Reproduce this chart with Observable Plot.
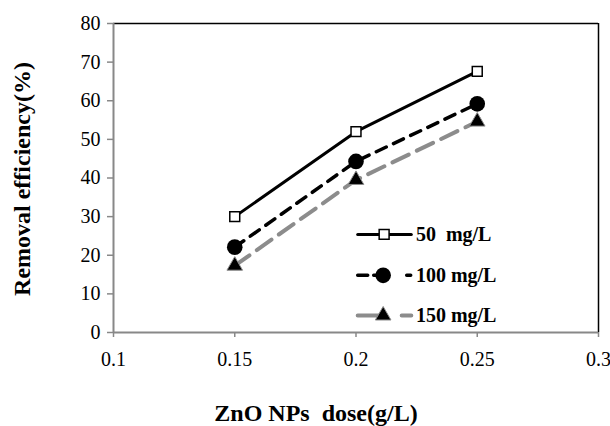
<!DOCTYPE html>
<html><head><meta charset="utf-8">
<script src="https://cdn.jsdelivr.net/npm/d3@7"></script>
<script src="https://cdn.jsdelivr.net/npm/@observablehq/plot@0.6"></script>
<style>
body{margin:0;background:#fff}
</style>
</head><body><div id="chart"></div>
<script>
const doses = [0.15, 0.2, 0.25];
const s50 = [30, 52, 67.6];
const s100 = [22.1, 44.3, 59.2];
const s150 = [17.3, 39.5, 54.6];
const seriesNames = ["50  mg/L", "100 mg/L", "150 mg/L"];
const xTicks = [0.1, 0.15, 0.2, 0.25, 0.3];
const yTicks = [0, 10, 20, 30, 40, 50, 60, 70, 80];
const xTitle = "ZnO NPs  dose(g/L)";
const yTitle = "Removal efficiency(%)";
// legend placement in data units
const legX0 = 0.2007, legX1 = 0.2228, legXm = [0.2116, 0.2112, 0.2112], legXt = 0.2247;
const legY = [25.4, 14.8, 4.4];

const rows = (vals) => doses.map((d, i) => ({x: d, y: vals[i]}));
const d50 = rows(s50), d100 = rows(s100), d150 = rows(s150);
const legLine = (i) => [{x: legX0, y: legY[i]}, {x: legX1, y: legY[i]}];
const legPt = (i) => [{x: legXm[i], y: legY[i]}];
const FONT = "Liberation Serif";

const chart = Plot.plot({
  width: 610, height: 426,
  marginLeft: 113, marginRight: 12, marginTop: 23, marginBottom: 94,
  style: {fontSize: "20px", color: "#000", background: "#fff", fontFamily: FONT},
  x: {domain: [0.1, 0.3], ticks: xTicks, tickFormat: d => String(d), tickSize: 5, tickPadding: 14, label: null},
  y: {domain: [0, 80], ticks: yTicks, tickSize: 6, tickPadding: 7, label: null},
  marks: [
    Plot.ruleY([80], {stroke: "#000", strokeWidth: 1.5}),
    Plot.ruleX([0.3], {stroke: "#000", strokeWidth: 1.5}),
    Plot.ruleX([0.1], {stroke: "#888", strokeWidth: 2}),
    Plot.ruleY([0], {stroke: "#888", strokeWidth: 2}),
    Plot.line(d150, {x: "x", y: "y", stroke: "#8c8c8c", strokeWidth: 4, strokeDasharray: "18,9"}),
    Plot.line(d100, {x: "x", y: "y", stroke: "#000", strokeWidth: 3.5, strokeDasharray: "11,8"}),
    Plot.line(d50, {x: "x", y: "y", stroke: "#000", strokeWidth: 3}),
    Plot.dot(d150, {x: "x", y: "y", symbol: "triangle", r: 5.8, fill: "#000", stroke: "#8c8c8c", strokeWidth: 1}),
    Plot.dot(d100, {x: "x", y: "y", symbol: "circle", r: 7.8, fill: "#000", stroke: "none"}),
    Plot.dot(d50, {x: "x", y: "y", symbol: "square", r: 5.6, fill: "#fff", stroke: "#000", strokeWidth: 1.5}),
    // legend
    Plot.line(legLine(0), {x: "x", y: "y", stroke: "#000", strokeWidth: 3}),
    Plot.line(legLine(1), {x: "x", y: "y", stroke: "#000", strokeWidth: 3.5, strokeDasharray: "10,6,12,21,4"}),
    Plot.line(legLine(2), {x: "x", y: "y", stroke: "#8c8c8c", strokeWidth: 4, strokeDasharray: "28,16,10"}),
    Plot.dot(legPt(0), {x: "x", y: "y", symbol: "square", r: 5.6, fill: "#fff", stroke: "#000", strokeWidth: 1.5}),
    Plot.dot(legPt(1), {x: "x", y: "y", symbol: "circle", r: 7.8, fill: "#000"}),
    Plot.dot(legPt(2), {x: "x", y: "y", symbol: "triangle", r: 5.8, fill: "#000", stroke: "#8c8c8c", strokeWidth: 1}),
    Plot.text(seriesNames.map((n, i) => ({x: legXt, y: legY[i], t: n})),
      {x: "x", y: "y", text: "t", textAnchor: "start", fontWeight: "bold", fontSize: 20, fill: "#000", fontFamily: FONT}),
    // axis titles
    Plot.text([xTitle], {frameAnchor: "bottom", textAnchor: "middle", lineAnchor: "middle", dx: -40, dy: 81, fontWeight: "bold", fontSize: 24, fill: "#000", fontFamily: FONT}),
    Plot.text([yTitle], {frameAnchor: "left", textAnchor: "middle", lineAnchor: "middle", rotate: -90, dx: -91, dy: 1, fontWeight: "bold", fontSize: 24, fill: "#000", fontFamily: FONT})
  ]
});
d3.select(chart).selectAll("[aria-label='x-axis tick label'], [aria-label='y-axis tick label']").attr("font-family", FONT);
d3.select(chart).selectAll("[aria-label='x-axis tick'] path, [aria-label='y-axis tick'] path").attr("stroke", "#888").attr("stroke-width", 1.5);
d3.select(chart).selectAll("[aria-label='x-axis tick label'] text, [aria-label='y-axis tick label'] text").attr("fill", "#000");
document.getElementById("chart").appendChild(chart);
</script>
</body></html>
